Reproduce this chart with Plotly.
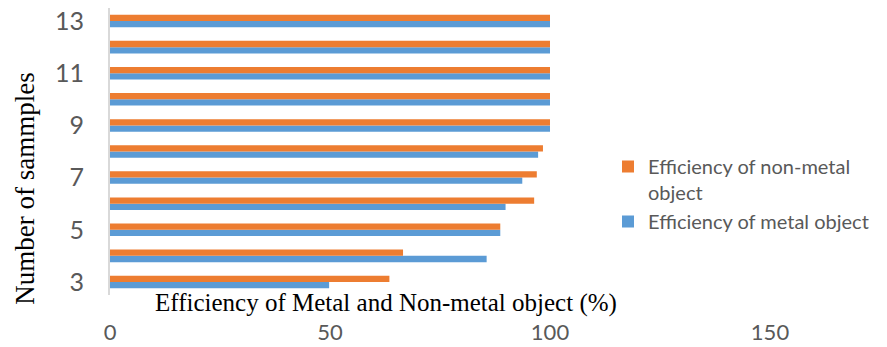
import plotly.graph_objects as go

samples = [3, 4, 5, 6, 7, 8, 9, 10, 11, 12, 13]
metal = [49.8, 85.6, 88.7, 89.9, 93.7, 97.3, 100, 100, 100, 100, 100]
non_metal = [63.5, 66.6, 88.7, 96.4, 97.0, 98.4, 100, 100, 100, 100, 100]
x_ticks = [0, 50, 100, 150]
y_ticks = [3, 5, 7, 9, 11, 13]

fig = go.Figure()
fig.add_trace(go.Bar(y=samples, x=metal, orientation="h", name="Efficiency of metal object",
                     marker=dict(color="#5B9BD5", line=dict(width=0)), legendrank=2))
fig.add_trace(go.Bar(y=samples, x=non_metal, orientation="h", name="Efficiency of non-metal<br>object",
                     marker=dict(color="#ED7D31", line=dict(width=0)), legendrank=1))

fig.update_layout(
    width=887, height=347,
    margin=dict(l=110, r=117, t=8, b=52, autoexpand=False),
    paper_bgcolor="white", plot_bgcolor="white",
    barmode="group", bargap=0.52, bargroupgap=0,
    showlegend=True,
    legend=dict(x=608 / 887, y=1 - 147 / 347, xref="container", yref="container",
                xanchor="left", yanchor="top", valign="top",
                font=dict(family="Lato", size=20, color="#595959"),
                bgcolor="rgba(0,0,0,0)", itemwidth=30, tracegroupgap=0),
    xaxis=dict(range=[0, 150], tickvals=x_ticks, showgrid=False, zeroline=False,
               showline=False, ticks="", ticklabelstandoff=22, automargin=False,
               tickfont=dict(family="Lato", size=22, color="#595959")),
    yaxis=dict(range=[2.5, 13.5], tickvals=y_ticks, showgrid=False, zeroline=False,
               showline=True, linecolor="#D9D9D9", linewidth=2, ticks="",
               ticklabelstandoff=19, automargin=False,
               tickfont=dict(family="Lato", size=25, color="#595959")),
    annotations=[
        dict(text="Efficiency of Metal and Non-metal object (%)", x=(385.5 - 110) / 660, xref="paper",
             y=-0.028, yref="paper", xanchor="center", yanchor="middle",
             showarrow=False,
             font=dict(family="Liberation Serif", size=25, color="black")),
        dict(text="Number of sammples", x=(25 - 110) / 660, xref="paper",
             y=0.37, yref="paper", xanchor="center", yanchor="middle",
             textangle=-90, showarrow=False,
             font=dict(family="Liberation Serif", size=27, color="black")),
    ],
)

fig.write_html("out.html")
